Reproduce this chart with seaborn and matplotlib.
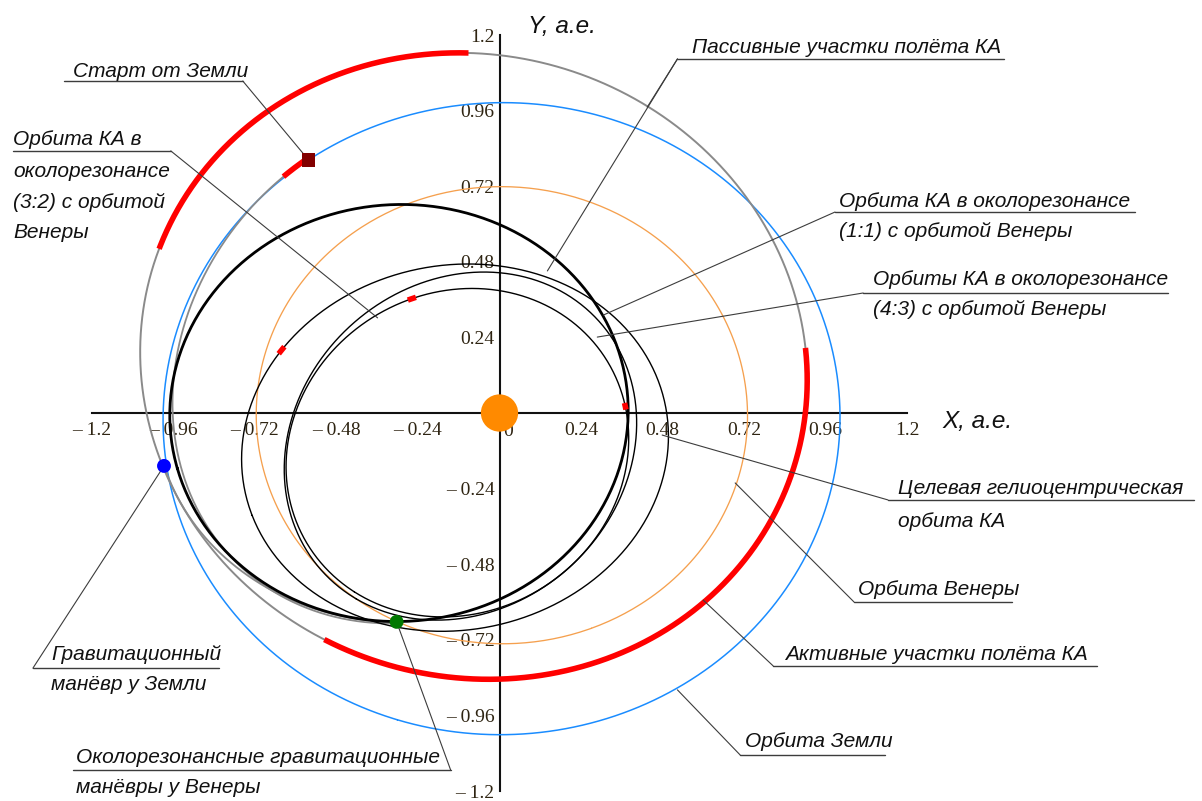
import numpy as np
import pandas as pd
import matplotlib
matplotlib.use("Agg")
import matplotlib.pyplot as plt
import seaborn as sns

sns.set_theme(style="white")
ANN_FONT = ['Liberation Sans', 'DejaVu Sans']
TICK_FONT = ['Liberation Serif', 'DejaVu Serif']
plt.rcParams['font.family'] = ANN_FONT

# ---- orbits: ellipse centre, semi-axes, tilt (deg) and drawn arc (deg of parameter) ----
orbit_name = ['earth', 'venus', 'transfer', 'res32', 'target', 'res11', 'res43',
              'launch', 'post_ga']
center_x = [0.006, 0.007, -0.076, -0.296, -0.131, -0.115, -0.124, -0.211, -0.290]
center_y = [-0.018, -0.007, 0.149, 0.000, -0.110, -0.105, -0.126, 0.150, 0.020]
semi_a = [1.004, 0.726, 1.011, 0.676, 0.635, 0.574, 0.536, 0.849, 0.725]
semi_b = [0.996, 0.723, 0.965, 0.661, 0.576, 0.495, 0.489, 0.717, 0.685]
tilt_deg = [-107.8, -68.7, -52.7, -165.0, -160.2, -122.4, -124.5, -119.9, 0.0]
arc_from = [0, 0, 0, 0, 0, 0, 0, -117.8, 196.0]
arc_to = [360, 360, 360, 360, 360, 360, 360, 27.2, 270.0]
orbit_color = ['#1a8cff', '#f5a04e', '#8a8a8a', 'black', 'black', 'black', 'black',
               '#8a8a8a', '#8a8a8a']
orbit_lw = [1.1, 0.95, 1.4, 2.0, 1.0, 1.0, 1.0, 1.3, 1.3]

# thrust (active) arcs: orbit, parameter start, parameter end
thrust_orbit = ['transfer', 'transfer', 'launch', 'target', 'res43', 'res43']
thrust_from = [142.3, -65.2, -117.8, -55.0, -129.0, 137.3]
thrust_to = [212.0, 57.3, -111.3, -52.4, -126.2, 139.7]

# events
event_name = ['sun', 'launch', 'earth_ga', 'venus_ga']
event_x = [0.0, -0.562, -0.988, -0.303]
event_y = [0.0, 0.803, -0.168, -0.663]

ticks = [-1.2, -0.96, -0.72, -0.48, -0.24, 0.0, 0.24, 0.48, 0.72, 0.96, 1.2]
xtick_labels = ['– 1.2', '– 0.96', '– 0.72', '– 0.48', '– 0.24', '',
                '0.24', '0.48', '0.72', '0.96', '1.2']
ytick_labels = ['– 1.2', '– 0.96', '– 0.72', '– 0.48', '– 0.24', '',
                '0.24', '0.48', '0.72', '0.96', '1.2']


def ellipse_points(i, t0, t1, n=500):
    t = np.radians(np.linspace(t0, t1, n))
    r = np.radians(tilt_deg[i])
    a, b = semi_a[i], semi_b[i]
    x = center_x[i] + a * np.cos(t) * np.cos(r) - b * np.sin(t) * np.sin(r)
    y = center_y[i] + a * np.cos(t) * np.sin(r) + b * np.sin(t) * np.cos(r)
    return pd.DataFrame({'x': x, 'y': y})


fig = plt.figure(figsize=(12.02, 8.01), dpi=100)
ax = fig.add_axes([92 / 1202, 10 / 801, 815 / 1202, 756 / 801])

draw_order = ['venus', 'earth', 'transfer', 'launch', 'post_ga', 'target', 'res11',
              'res43', 'res32']
for z, name in enumerate(draw_order):
    i = orbit_name.index(name)
    sns.lineplot(data=ellipse_points(i, arc_from[i], arc_to[i]), x='x', y='y',
                 sort=False, estimator=None, color=orbit_color[i],
                 lw=orbit_lw[i], ax=ax, zorder=2 + z * 0.1)

for name, t0, t1 in zip(thrust_orbit, thrust_from, thrust_to):
    i = orbit_name.index(name)
    sns.lineplot(data=ellipse_points(i, t0, t1), x='x', y='y', sort=False,
                 estimator=None, color='#ff0000', lw=4.0,
                 solid_capstyle='butt', ax=ax, zorder=4)

ev = pd.DataFrame({'x': event_x, 'y': event_y, 'name': event_name})
marker_style = {'sun': ('o', '#ff8a00', 720), 'launch': ('s', '#820000', 95),
                'earth_ga': ('o', '#0000ff', 100), 'venus_ga': ('o', '#007800', 100)}
for name, (m, c, s) in marker_style.items():
    sns.scatterplot(data=ev[ev['name'] == name], x='x', y='y', marker=m, color=c,
                    s=s, edgecolor='none', ax=ax, zorder=6)

# ---- axes through the origin ----
ax.set_xlim(-1.2, 1.2)
ax.set_ylim(-1.2, 1.2)
ax.set_xlabel('')
ax.set_ylabel('')
for side in ('top', 'right'):
    ax.spines[side].set_visible(False)
for side in ('left', 'bottom'):
    ax.spines[side].set_position(('data', 0))
    ax.spines[side].set_color('#111111')
    ax.spines[side].set_linewidth(1.5)
    ax.spines[side].set_zorder(1.5)
ax.set_xticks(ticks)
ax.set_yticks(ticks)
ax.set_xticklabels(xtick_labels)
ax.set_yticklabels(ytick_labels)
tick_color = '#2e2412'
ax.tick_params(axis='both', direction='inout', length=9, width=1.2, color='#111111',
               labelsize=14, labelcolor=tick_color)
ax.tick_params(axis='x', pad=2)
ax.tick_params(axis='y', pad=-1)
for lab in ax.get_xticklabels() + ax.get_yticklabels():
    lab.set_family(TICK_FONT)
ax.text(0.024, -0.058, '0', family=TICK_FONT, fontsize=14, color=tick_color,
        ha='center', va='center')
ax.patch.set_alpha(0)

txt = dict(family=ANN_FONT, style='italic', color='#111111', fontsize=15,
           clip_on=False, va='baseline', ha='left')
ax.text(0.085, 1.206, 'Y, а.е.', **{**txt, 'fontsize': 17.5})
ax.text(1.303, -0.048, 'X, а.е.', **{**txt, 'fontsize': 17.5})

# callouts: text lines (x, baseline y), underline (x0, x1, y), leader start and ends
callouts = [
    ([('Старт от Земли', -1.256, 1.067)], (-1.282, -0.756, 1.054),
     (-0.756, 1.054), [(-0.562, 0.803)]),
    ([('Орбита КА в', -1.432, 0.851), ('околорезонансе', -1.432, 0.749),
      ('(3:2) с орбитой', -1.432, 0.651), ('Венеры', -1.432, 0.556)],
     (-1.432, -0.968, 0.832), (-0.968, 0.832), [(-0.359, 0.302)]),
    ([('Пассивные участки полёта КА', 0.568, 1.143)], (0.524, 1.485, 1.124),
     (0.524, 1.124), [(0.141, 0.451), (0.435, 0.971)]),
    ([('Орбита КА в околорезонансе', 1.0, 0.654), ('(1:1) с орбитой Венеры', 1.0, 0.559)],
     (0.988, 1.871, 0.638), (0.988, 0.638), [(0.306, 0.311)]),
    ([('Орбиты КА в околорезонансе', 1.1, 0.406), ('(4:3) с орбитой Венеры', 1.1, 0.311)],
     (1.071, 1.968, 0.381), (1.071, 0.381), [(0.288, 0.241)]),
    ([('Целевая гелиоцентрическая', 1.174, -0.257), ('орбита КА', 1.174, -0.362)],
     (1.144, 2.044, -0.276), (1.144, -0.276), [(0.479, -0.07)]),
    ([('Орбита Венеры', 1.056, -0.578)], (1.044, 1.509, -0.6),
     (1.044, -0.6), [(0.694, -0.222)]),
    ([('Активные участки полёта КА', 0.841, -0.784)], (0.806, 1.759, -0.803),
     (0.806, -0.803), [(0.6, -0.594)]),
    ([('Орбита Земли', 0.724, -1.06)], (0.709, 1.135, -1.086),
     (0.709, -1.086), [(0.524, -0.879)]),
    ([('Гравитационный', -1.321, -0.784), ('манёвр у Земли', -1.321, -0.879)],
     (-1.374, -0.826, -0.81), (-1.374, -0.81), [(-0.988, -0.168)]),
    ([('Околорезонансные гравитационные', -1.247, -1.111),
      ('манёвры у Венеры', -1.247, -1.206)],
     (-1.256, -0.144, -1.133), (-0.144, -1.133), [(-0.303, -0.663)]),
]
for lines, (ux0, ux1, uy), (lx, ly), ends in callouts:
    for s, x, y in lines:
        ax.text(x, y, s, **txt)
    ax.plot([ux0, ux1], [uy, uy], color='#3c3c3c', lw=1.0, clip_on=False, zorder=5)
    for ex, ey in ends:
        ax.plot([lx, ex], [ly, ey], color='#3c3c3c', lw=0.8, clip_on=False, zorder=5)

fig.savefig('out.png', dpi=100)
